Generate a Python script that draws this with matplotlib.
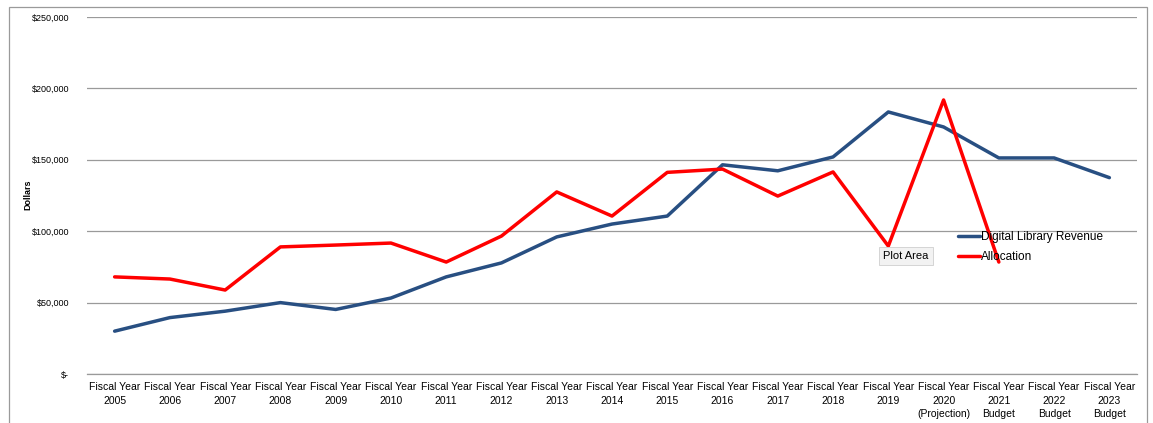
import numpy as np
import matplotlib.pyplot as plt
from matplotlib.patches import Rectangle

plt.rcParams['font.family'] = ['Liberation Sans', 'DejaVu Sans']

years = ["Fiscal Year\n2005", "Fiscal Year\n2006", "Fiscal Year\n2007", "Fiscal Year\n2008",
         "Fiscal Year\n2009", "Fiscal Year\n2010", "Fiscal Year\n2011", "Fiscal Year\n2012",
         "Fiscal Year\n2013", "Fiscal Year\n2014", "Fiscal Year\n2015", "Fiscal Year\n2016",
         "Fiscal Year\n2017", "Fiscal Year\n2018", "Fiscal Year\n2019",
         "Fiscal Year\n2020\n(Projection)", "Fiscal Year\n2021\nBudget",
         "Fiscal Year\n2022\nBudget", "Fiscal Year\n2023\nBudget"]

revenue = [30000, 39500, 44000, 50000, 45200, 53200, 68000, 77800, 96000, 105000,
           110600, 146500, 142300, 152000, 183500, 173000, 151300, 151300, 137500]

allocation = [68000, 66500, 58800, 89000, 90300, 91700, 78400, 96600, 127500, 110600,
              141200, 143500, 124600, 141500, 89600, 191900, 78400]

yticks = [0, 50000, 100000, 150000, 200000, 250000]
ytick_labels = ["$-", "$50,000", "$100,000", "$150,000", "$200,000", "$250,000"]

fig = plt.figure(figsize=(11.53, 4.23), dpi=100)
ax = fig.add_axes([87/1153, 49/423, 1050/1153, 357/423])

x = np.arange(len(years))
ax.plot(x, revenue, color='#284f82', linewidth=2.5, label='Digital Library Revenue',
        solid_joinstyle='round', solid_capstyle='round')
ax.plot(x[:len(allocation)], allocation, color='#ff0000', linewidth=2.5, label='Allocation',
        solid_joinstyle='round', solid_capstyle='round')

ax.set_xlim(-0.5, len(years) - 0.5)
ax.set_ylim(0, 250000)
ax.set_yticks(yticks)
ax.set_yticklabels(ytick_labels, fontsize=6.5)
ax.set_xticks(x)
ax.set_xticklabels(years, fontsize=7.5, linespacing=1.4, va='top')
ax.tick_params(length=0)
ax.tick_params(axis='y', pad=13)
ax.tick_params(axis='x', pad=6)
ax.grid(axis='y', color='#9a9a9a', linewidth=0.9)
ax.axhline(0, color='#9a9a9a', linewidth=0.9, clip_on=False, zorder=0)
ax.set_axisbelow(True)
for s in ax.spines.values():
    s.set_visible(False)

fig.text(28/1153, 1 - 195/423, "Dollars", rotation=90, fontsize=6.5, fontweight='bold',
         ha='center', va='center')

leg = fig.legend(loc='upper left', bbox_to_anchor=(958/1153, 1 - 231/423), frameon=False,
                 fontsize=8.5, handlelength=1.9, handletextpad=0.05, labelspacing=0.7,
                 borderaxespad=0, borderpad=0)

fig.text(906/1153, 1 - 256/423, "Plot Area", fontsize=8, ha='center', va='center',
         bbox=dict(boxstyle='square,pad=0.35', facecolor='#f2f2f2', edgecolor='#cfcfcf',
                   linewidth=0.6))

# chart border
fig.add_artist(Rectangle((9/1153, -0.05), 1138/1153, 1.05 - 7/423, transform=fig.transFigure,
                         fill=False, edgecolor='#9a9a9a', linewidth=0.9))

fig.savefig('out.png', dpi=100)
